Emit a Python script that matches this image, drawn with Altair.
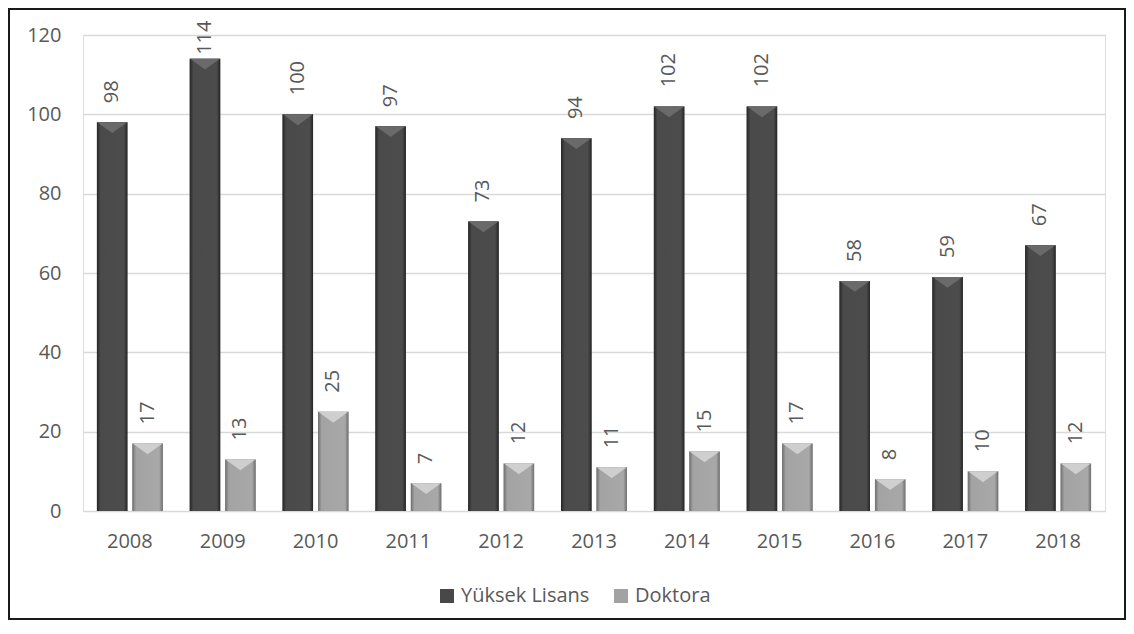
import altair as alt
import pandas as pd

years = ["2008", "2009", "2010", "2011", "2012", "2013", "2014", "2015", "2016", "2017", "2018"]
yuksek_lisans = [98, 114, 100, 97, 73, 94, 102, 102, 58, 59, 67]
doktora = [17, 13, 25, 7, 12, 11, 15, 17, 8, 10, 12]
series = ["Yüksek Lisans", "Doktora"]
y_ticks = [0, 20, 40, 60, 80, 100, 120]

rows = []
for i, yr in enumerate(years):
    rows.append({"Yıl": yr, "Seri": series[0], "Değer": yuksek_lisans[i]})
    rows.append({"Yıl": yr, "Seri": series[1], "Değer": doktora[i]})
df = pd.DataFrame(rows)

FONT = "Open Sans"
TXT = "#595959"
FS = 20
W, H = 1022, 476
PAD = {"left": 75, "top": 27, "right": 21, "bottom": 109}

x = alt.X("Yıl:N", sort=years,
          scale=alt.Scale(paddingInner=0.29, paddingOuter=0.15),
          axis=alt.Axis(title=None, labelAngle=0, domain=False, ticks=False,
                        labelPadding=20, labelFontSize=FS, labelColor=TXT,
                        labelFont=FONT, grid=False))
xoff = alt.XOffset("Seri:N", scale=alt.Scale(domain=series, paddingInner=0.14, paddingOuter=0))
yscale = alt.Scale(domain=[0, 120], nice=False)
yaxis = alt.Axis(title=None, values=y_ticks, domain=False, ticks=False,
                 labelPadding=22, labelFontSize=FS, labelColor=TXT,
                 labelFont=FONT, gridColor="#d9d9d9", gridWidth=1.3)
y = alt.Y("Değer:Q", scale=yscale, axis=yaxis)

base = alt.Chart(df)

flat = base.mark_bar().encode(
    x=x, xOffset=xoff, y=y,
    color=alt.Color("Seri:N",
                    scale=alt.Scale(domain=series, range=["#484848", "#a2a2a2"]),
                    legend=alt.Legend(title=None, orient="none", legendX=354, legendY=551,
                                      direction="horizontal", symbolType="square",
                                      symbolSize=196, symbolStrokeWidth=0,
                                      labelFontSize=FS, labelColor=TXT, labelFont=FONT,
                                      labelOffset=4, columnPadding=21)),
)

dark_grad = alt.Gradient(gradient="linear", x1=0, x2=1, y1=0, y2=0, stops=[
    alt.GradientStop(color="#262626", offset=0),
    alt.GradientStop(color="#4a4a4a", offset=0.12),
    alt.GradientStop(color="#4c4c4c", offset=0.88),
    alt.GradientStop(color="#262626", offset=1),
])
light_grad = alt.Gradient(gradient="linear", x1=0, x2=1, y1=0, y2=0, stops=[
    alt.GradientStop(color="#6e6e6e", offset=0),
    alt.GradientStop(color="#a3a3a3", offset=0.12),
    alt.GradientStop(color="#a8a8a8", offset=0.88),
    alt.GradientStop(color="#6e6e6e", offset=1),
])

dark_bars = base.transform_filter(alt.datum["Seri"] == series[0]).mark_bar(color=dark_grad).encode(
    x=x, xOffset=xoff, y=y)
light_bars = base.transform_filter(alt.datum["Seri"] == series[1]).mark_bar(color=light_grad).encode(
    x=x, xOffset=xoff, y=y)

tri_shape = "M-1,0 L1,0 L0,0.72 Z"
dark_tri = base.transform_filter(alt.datum["Seri"] == series[0]).mark_point(
    shape=tri_shape, filled=True, size=900, color="#6a6a6a", opacity=1).encode(
    x=x, xOffset=xoff, y=y)
light_tri = base.transform_filter(alt.datum["Seri"] == series[1]).mark_point(
    shape=tri_shape, filled=True, size=900, color="#cfcfcf", opacity=1).encode(
    x=x, xOffset=xoff, y=y)

# labels sit ~19px above the bar, but are kept inside the chart like Excel does
labels = base.transform_calculate(
    pos="min(datum['Değer'] + 4.8, 115)"
).mark_text(angle=270, align="left", baseline="middle",
            fontSize=FS, color=TXT, font=FONT).encode(
    x=x, xOffset=xoff, y=alt.Y("pos:Q", scale=yscale, axis=yaxis),
    text=alt.Text("Değer:Q"))

frame = alt.Chart(pd.DataFrame({"k": [0]})).mark_rect(
    filled=False, stroke="#1a1a1a", strokeWidth=2).encode(
    x=alt.value(-PAD["left"] + 1), x2=alt.value(W + PAD["right"] - 1),
    y=alt.value(-PAD["top"] + 1), y2=alt.value(H + PAD["bottom"] - 1))

chart = alt.layer(flat, dark_bars, light_bars, dark_tri, light_tri, labels, frame).properties(
    width=W, height=H, padding=PAD,
    autosize=alt.AutoSizeParams(type="none"),
).configure_view(stroke=None).configure(background="white")

chart.save("out.html", embed_options={"renderer": "svg", "actions": False})
